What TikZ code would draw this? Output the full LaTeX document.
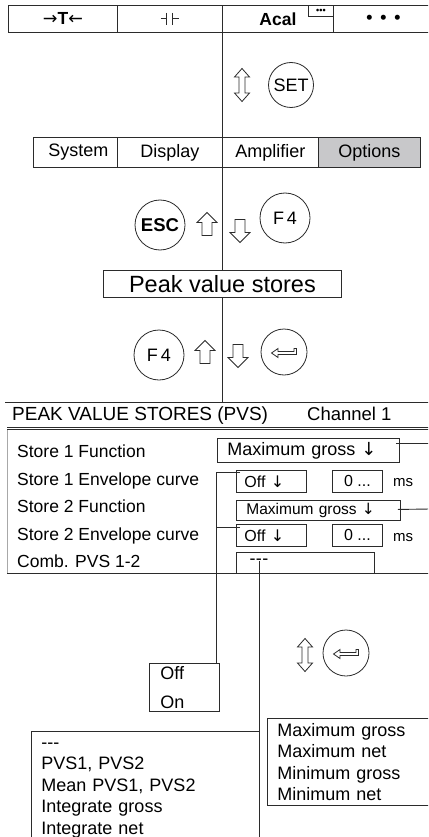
\documentclass[tikz,border=0pt]{standalone}
\usepackage{fontspec}
\setmainfont{Liberation Sans}
\newfontfamily\arrowfont{DejaVu Sans}
\usepackage{xcolor}
\usepackage{tikz}
\usetikzlibrary{calc}
\definecolor{ink}{HTML}{2B2B2B}
\definecolor{tabgray}{HTML}{C8C8CA}
\definecolor{rimgray}{HTML}{A8A8A8}
\newcommand{\dnarrow}{{\arrowfont ↓}}
\tikzset{
  cell/.style={draw=ink, line width=0.9pt, anchor=north west, inner sep=0pt, align=center},
  field/.style={draw=ink, line width=0.9pt, anchor=north west, inner ysep=0pt, align=left},
  key/.style={draw=ink, line width=0.8pt, circle, inner sep=0pt, minimum size=48, font=\fontsize{18}{20}\selectfont},
  lbl/.style={anchor=base west, inner sep=0pt},
  list/.style={draw=ink, line width=0.9pt, anchor=north west, align=left, inner xsep=10pt, inner ysep=4.5pt, font=\fontsize{18}{21.5}\selectfont},
  wire/.style={draw=ink, line width=0.9pt},
  uparrow/.pic={\draw[ink, line width=0.8pt, fill=white] (0,-11.5) -- (10,-1.5) -- (5,-1.5) -- (5,11.5) -- (-5,11.5) -- (-5,-1.5) -- (-10,-1.5) -- cycle;},
  downarrow/.pic={\draw[ink, line width=0.8pt, fill=white] (0,11.5) -- (10,1.5) -- (5,1.5) -- (5,-11.5) -- (-5,-11.5) -- (-5,1.5) -- (-10,1.5) -- cycle;},
  updown/.pic={\draw[ink, line width=0.8pt, fill=white] (0,-16.5) -- (7.5,-8) -- (3,-8) -- (3,8) -- (7.5,8) -- (0,16.5) -- (-7.5,8) -- (-3,8) -- (-3,-8) -- (-7.5,-8) -- cycle;},
  enterkey/.pic={\draw[ink, line width=0.8pt, fill=white] (-12.5,1) -- (-6,-3.5) -- (-6,-0.5) -- (10,-0.5) -- (10,-3.5) -- (12.5,-3.5) -- (12.5,2.5) -- (-6,2.5) -- (-6,5.5) -- cycle;},
  capsym/.pic={\draw[ink, line width=1pt] (-9,0) -- (-3,0) (-3,-6) -- (-3,6) (3,-6) -- (3,6) (3,0) -- (9,0);}
}

\begin{document}
\begin{tikzpicture}[x=1pt, y=-1pt, font=\fontsize{17.5}{21}\selectfont]
  \clip (0,0) rectangle (428,837);
  \fill[white] (0,0) rectangle (428,837);

  % softkey bar
  \node[cell, minimum width=109, minimum height=27] (tare) at (8,5) {{\arrowfont →}\textbf{T}{\arrowfont ←}};
  \node[cell, minimum width=105, minimum height=27] (zero) at (117,5) {};
  \pic at (zero.center) {capsym};
  \node[cell, minimum width=111, minimum height=27, font=\fontsize{17.5}{21}\selectfont\bfseries] (acal) at (222,5) {Acal};
  \node[cell, minimum width=100, minimum height=27, font=\fontsize{17.5}{21}\selectfont\bfseries] (more) at (333,5) {•\, •\, •};
  \node[cell, minimum width=25, minimum height=11, font=\fontsize{9}{9}\selectfont\bfseries] (acalmore) at (308,5) {•••};

  \pic at (242,85) {updown};
  \node[key, minimum size=45] (set) at (291,85) {SET};

  % menu tabs
  \node[cell, minimum width=84, minimum height=30, font=\fontsize{18}{21}\selectfont] (system) at (33,137) {\hspace*{6pt}System};
  \node[cell, minimum width=105, minimum height=30, font=\fontsize{18}{21}\selectfont] (display) at (117,137) {Display};
  \node[cell, minimum width=96, minimum height=30, font=\fontsize{18}{21}\selectfont] (amplifier) at (222,137) {Amplifier};
  \node[cell, minimum width=102, minimum height=30, fill=tabgray, font=\fontsize{18}{21}\selectfont] (options) at (318,137) {Options};

  \node[key, minimum size=50, font=\fontsize{18.5}{20}\selectfont\bfseries] (esc) at (160,225) {ESC};
  \pic at (207,224) {uparrow};
  \pic at (240,231) {downarrow};
  \node[key, minimum size=50] (fkeya) at (285,218) {F\,4};

  \node[cell, minimum width=238, minimum height=27, font=\fontsize{23.5}{26}\selectfont] (peak) at (103,270) {Peak value stores};

  \node[key, minimum size=50] (fkeyb) at (159,355) {F\,4};
  \pic at (205,352) {uparrow};
  \pic at (238,356) {downarrow};
  \node[key, minimum size=46] (enter) at (284,352) {};
  \pic at (enter.center) {enterkey};

  \coordinate (hdrL) at (5,402);
  \coordinate (hdrR) at (430,402);
  \draw[wire] (acal.south west) -- (amplifier.north west);
  \draw[wire] (amplifier.south west) -- (amplifier.south west |- peak.north);
  \draw[wire] (amplifier.south west |- peak.south) -- (amplifier.south west |- hdrL);

  % PVS screen
  \draw[wire] (hdrL) -- (hdrR);
  \node[lbl, font=\fontsize{19}{22}\selectfont] (title) at (12,420) {PEAK VALUE STORES (PVS)};
  \node[lbl, font=\fontsize{18.5}{22}\selectfont] (channel) at (307,420) {Channel 1};
  \draw[ink, line width=0.7pt] (7,427) -- (430,427);
  \draw[ink, line width=0.7pt] (7,429.8) -- (430,429.8);
  \draw[rimgray, line width=0.9pt] (7,430) -- (7,573);
  \draw[wire] (7,573) -- (430,573);

  \node[lbl] (fn1) at (17,457) {Store 1 Function};
  \node[lbl] (env1) at (17,485) {Store 1 Envelope curve};
  \node[lbl] (fn2) at (17,512) {Store 2 Function};
  \node[lbl] (env2) at (17,540) {Store 2 Envelope curve};
  \node[lbl] (comb) at (17,567) {Comb. PVS 1-2};

  \node[field, inner xsep=10pt, text width=162, minimum height=24, font=\fontsize{18}{20}\selectfont] (max1) at (217,438) {Maximum gross \dnarrow};
  \node[field, inner xsep=8pt, text width=54, minimum height=22, font=\fontsize{16}{18}\selectfont] (off1) at (236,470) {Off \dnarrow};
  \node[cell, minimum width=50, minimum height=22, font=\fontsize{16}{18}\selectfont] (zero1) at (332,470) {0 ...};
  \node[lbl, font=\fontsize{15}{18}\selectfont] (ms1) at (393,486) {ms};
  \node[field, inner xsep=10pt, text width=144, minimum height=20, font=\fontsize{15.5}{18}\selectfont] (max2) at (236,500) {Maximum gross \dnarrow};
  \node[field, inner xsep=8pt, text width=54, minimum height=22, font=\fontsize{16}{18}\selectfont] (off2) at (236,524) {Off \dnarrow};
  \node[cell, minimum width=50, minimum height=22, font=\fontsize{16}{18}\selectfont] (zero2) at (332,524) {0 ...};
  \node[lbl, font=\fontsize{15}{18}\selectfont] (ms2) at (393,541) {ms};
  \node[cell, minimum width=138, minimum height=21] (combbox) at (236,552) {};
  \node[inner sep=0pt, font=\fontsize{18}{20}\selectfont] (combval) at (259,562) {-\kern0.5pt-\kern0.5pt-};

  % selection lists
  \node[list, inner xsep=11pt, inner ysep=3pt, text width=48, font=\fontsize{18}{29}\selectfont] (offon) at (149,663) {Off\\On};
  \node[list, text width=170] (fnlist) at (267,718) {Maximum gross\\Maximum net\\Minimum gross\\Minimum net};
  \node[list, text width=208] (pvslist) at (31,731) {\vphantom{M}-{}-{}-\\PVS1, PVS2\\Mean PVS1, PVS2\\Integrate gross\\Integrate net};

  \pic at (305,655) {updown};
  \node[key, minimum size=46] (enterb) at (346,653) {};
  \pic at (enterb.center) {enterkey};

  \coordinate (rim1) at (430,443);
  \coordinate (rim2) at (430,509);
  \draw[wire] ($(max1.north east)+(-4,5)$) -- (rim1);
  \draw[wire] ($(max2.east)+(-3,-1)$) -- (rim2);
  \draw[wire] ($(off1.north west)+(4,2)$) -| ($(offon.north east)+(-3,0)$);
  \draw[wire] ($(off2.north west)+(4,3)$) -- ++(-24,0);
  \draw[wire] ($(combval.north)+(0,2)$) -- (combval.north |- pvslist.north);
\end{tikzpicture}
\end{document}
